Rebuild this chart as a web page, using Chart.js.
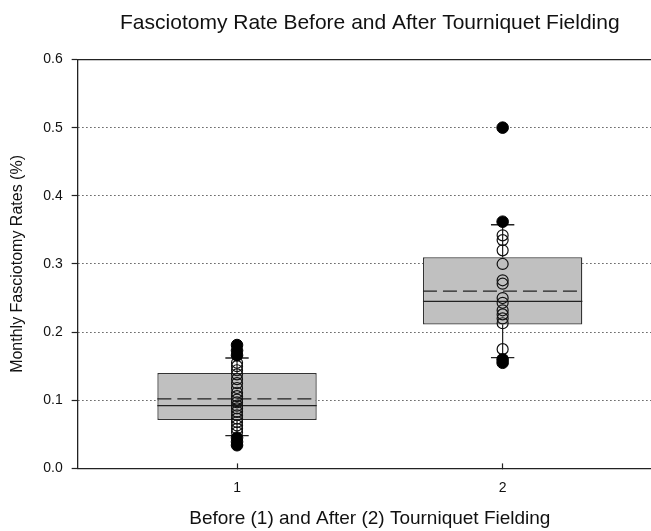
<!DOCTYPE html>
<html>
<head>
<meta charset="utf-8">
<script src="https://cdn.jsdelivr.net/npm/chart.js@4.4.1/dist/chart.umd.min.js"></script>
<style>
  html, body { margin: 0; padding: 0; background: #fff; overflow: hidden; }
  #wrap { width: 651px; height: 531px; overflow: hidden; }
</style>
</head>
<body>
<div id="wrap"><canvas id="fasciotomy_box" width="662" height="531"></canvas></div>
<script>
const GROUPS = [1, 2]; // 1 = before, 2 = after
const Q1 = [0.071, 0.211];
const Q3 = [0.140, 0.310];
const MEDIANS = [0.092, 0.245];
const MEANS = [0.102, 0.260];
const WHISKER_LOW = [0.048, 0.1625];
const WHISKER_HIGH = [0.162, 0.3575];

// monthly rates inside the whiskers (open circles)
const INSIDE_1 = [0.155, 0.150, 0.144, 0.138, 0.131, 0.125, 0.118, 0.111, 0.106, 0.101,
  0.097, 0.092, 0.088, 0.083, 0.078, 0.073, 0.068, 0.063, 0.058, 0.053];
const INSIDE_2 = [0.342, 0.335, 0.320, 0.300, 0.276, 0.271, 0.250, 0.243, 0.232, 0.226,
  0.220, 0.213, 0.175];
// outside the whiskers (filled)
const OUTSIDE_1 = [0.181, 0.173, 0.166, 0.045, 0.039, 0.034];
const OUTSIDE_2 = [0.500, 0.362, 0.160, 0.155];

const Y_TICKS = [0, 0.1, 0.2, 0.3, 0.4, 0.5, 0.6];

const BOX_HALF = 0.3;
const CAP_HALF = 0.044;
const FONT = 'Liberation Sans, Arial, sans-serif';

// segments separated by a null so the line breaks between them
const hSegments = (vals, half) => GROUPS.flatMap((g, i) => [
  { x: g - half, y: vals[i] }, { x: g + half, y: vals[i] }, { x: g + half, y: null }
]);
const whiskerData = GROUPS.flatMap((g, i) => [
  { x: g, y: Q3[i] }, { x: g, y: WHISKER_HIGH[i] }, { x: g, y: null },
  { x: g, y: Q1[i] }, { x: g, y: WHISKER_LOW[i] }, { x: g, y: null }
]);
const capData = [...hSegments(WHISKER_HIGH, CAP_HALF), ...hSegments(WHISKER_LOW, CAP_HALF)];
const toPoints = (g, vals) => vals.map(v => ({ x: g, y: v }));
const insidePts = [...toPoints(1, INSIDE_1), ...toPoints(2, INSIDE_2)];
const outsidePts = [...toPoints(1, OUTSIDE_1), ...toPoints(2, OUTSIDE_2)];

const near = (a, b) => Math.abs(a - b) < 1e-6;

window.onload = function () {
  const ctx = document.querySelector('#fasciotomy_box').getContext('2d');
  new Chart(ctx, {
    type: 'bar',
    data: {
      datasets: [
        {
          type: 'scatter',
          data: outsidePts,
          pointStyle: 'circle',
          pointRadius: 5.8,
          pointBackgroundColor: '#000',
          pointBorderColor: '#000',
          pointBorderWidth: 1,
          order: 0,
        },
        {
          type: 'scatter',
          data: insidePts,
          pointStyle: 'circle',
          pointRadius: 5.5,
          pointBackgroundColor: 'rgba(0,0,0,0)',
          pointBorderColor: '#111',
          pointBorderWidth: 1.2,
          order: 1,
        },
        {
          type: 'line',
          data: hSegments(MEANS, BOX_HALF),
          borderColor: '#222',
          borderWidth: 1.3,
          borderDash: [14, 6],
          pointRadius: 0,
          spanGaps: false,
          order: 2,
        },
        {
          type: 'line',
          data: hSegments(MEDIANS, BOX_HALF),
          borderColor: '#222',
          borderWidth: 1.3,
          pointRadius: 0,
          spanGaps: false,
          order: 2,
        },
        {
          type: 'line',
          data: capData,
          borderColor: '#222',
          borderWidth: 1.3,
          pointRadius: 0,
          spanGaps: false,
          order: 3,
        },
        {
          type: 'line',
          data: whiskerData,
          borderColor: '#222',
          borderWidth: 1.2,
          pointRadius: 0,
          spanGaps: false,
          order: 4,
        },
        {
          type: 'bar',
          data: GROUPS.map((g, i) => ({ x: g, y: [Q1[i], Q3[i]] })),
          backgroundColor: '#c0c0c0',
          borderColor: '#333',
          borderWidth: 1.3,
          borderSkipped: false,
          categoryPercentage: 1,
          barPercentage: 0.6,
          order: 5,
        },
      ],
    },
    options: {
      responsive: false,
      animation: false,
      layout: { autoPadding: false, padding: { left: 0, right: 0, top: 0, bottom: 1 } },
      plugins: {
        legend: { display: false },
        tooltip: { enabled: false },
        title: {
          display: true,
          fullSize: false,
          text: 'Fasciotomy Rate Before and After Tourniquet Fielding',
          color: '#111',
          font: { family: FONT, size: 21, weight: 'normal' },
          padding: { top: 11, bottom: 23.3 },
        },
      },
      scales: {
        x: {
          type: 'linear',
          min: 0.4,
          max: 2.6,
          offset: false,
          afterBuildTicks: (axis) => { axis.ticks = GROUPS.map(g => ({ value: g })); },
          ticks: {
            color: '#111',
            font: { family: FONT, size: 14 },
            padding: 16,
          },
          grid: {
            offset: false,
            drawOnChartArea: false,
            drawTicks: true,
            tickLength: -5,
            tickColor: '#222',
            tickWidth: 1.2,
          },
          border: { display: true, color: '#222', width: 1.3 },
          title: {
            display: true,
            text: 'Before (1) and After (2) Tourniquet Fielding',
            color: '#111',
            font: { family: FONT, size: 19 },
            padding: { top: -5, bottom: 0 },
          },
        },
        x2: {
          type: 'linear',
          position: 'top',
          min: 0.4,
          max: 2.6,
          ticks: { display: false },
          grid: { display: false, drawTicks: false },
          border: { display: true, color: '#222', width: 1.3 },
        },
        y: {
          type: 'linear',
          min: 0,
          max: 0.6,
          afterBuildTicks: (axis) => { axis.ticks = Y_TICKS.map(v => ({ value: v })); },
          ticks: {
            color: '#111',
            font: { family: FONT, size: 14 },
            padding: 9,
            callback: (v) => Number(v).toFixed(1),
          },
          grid: {
            color: (c) => (c.tick && (near(c.tick.value, 0) || near(c.tick.value, 0.6))) ? 'rgba(0,0,0,0)' : '#333',
            lineWidth: 1,
            tickColor: '#222',
            tickWidth: 1.2,
            tickLength: 6,
          },
          border: { display: true, color: '#222', width: 1.3, dash: [1.2, 2.8] },
          title: {
            display: true,
            text: 'Monthly Fasciotomy Rates (%)',
            color: '#111',
            font: { family: FONT, size: 16 },
            padding: { top: 8, bottom: 7 },
          },
        },
      },
    },
  });
};
</script>
</body>
</html>
